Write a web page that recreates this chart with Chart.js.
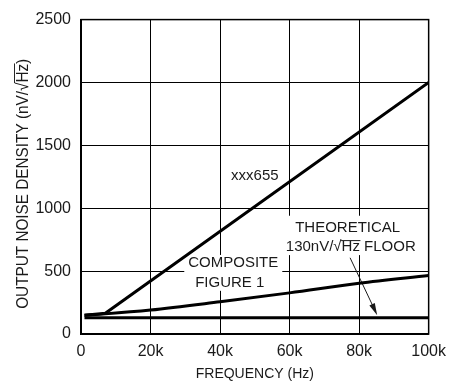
<!DOCTYPE html>
<html><head><meta charset="utf-8">
<script src="https://cdn.jsdelivr.net/npm/chart.js@4/dist/chart.umd.min.js"></script>
<style>html,body{margin:0;padding:0;background:#fff}#c{display:block}</style>
</head><body><canvas id="c" width="454" height="383"></canvas>
<script>
// ---- data ----
const freq655 = [1000, 7000, 100000];
const noise655 = [150, 165, 2000];
const freqComposite = [1000, 7000, 20000, 40000, 60000, 80000, 100000];
const noiseComposite = [150, 160, 190, 256, 327, 403, 465];
const freqFloor = [1000, 100000];
const noiseFloor = [130, 130];
const xTicks = [0, 20000, 40000, 60000, 80000, 100000];
const xTickLabels = ['0', '20k', '40k', '60k', '80k', '100k'];
const yTicks = [0, 500, 1000, 1500, 2000, 2500];
const yTickLabels = ['0', '500', '1000', '1500', '2000', '2500'];

const FONT = '"Liberation Sans", Arial, Helvetica, sans-serif';
const TXT = '#1a1a1a';

const toPts = (xs, ys) => xs.map((x, i) => ({x: x, y: ys[i]}));

function drawRadical(ctx, before, rad, after, cx, cy, px, sx) {
  ctx.save();
  ctx.font = px + 'px ' + FONT;
  ctx.textBaseline = 'middle';
  ctx.textAlign = 'left';
  const w1 = ctx.measureText(before + '\u221A').width;
  const w2 = ctx.measureText(rad).width;
  const w3 = ctx.measureText(after).width;
  const tot = w1 + w2 + w3;
  const asc = ctx.measureText('H').actualBoundingBoxAscent;
  ctx.translate(cx, cy);
  ctx.scale(sx, 1);
  const x0 = -tot / 2;
  ctx.fillText(before + '\u221A', x0, 0);
  ctx.fillText(rad, x0 + w1, 0);
  ctx.fillText(after, x0 + w1 + w2, 0);
  ctx.beginPath();
  ctx.lineWidth = 1;
  ctx.strokeStyle = ctx.fillStyle;
  const oy = Math.round(-asc - 1.5) + 0.5;
  ctx.moveTo(x0 + w1 - 0.5, oy);
  ctx.lineTo(x0 + w1 + w2 + 0.5, oy);
  ctx.stroke();
  ctx.restore();
  return tot * sx;
}

const annot = {
  id: 'annot',
  beforeDatasetsDraw(chart) {
    const {ctx, scales: {x, y}} = chart;
    ctx.save();
    ctx.fillStyle = '#fff';
    // white boxes masking the grid behind the labels
    const cX = x.getPixelForValue(43800), cY1 = y.getPixelForValue(565), cY2 = y.getPixelForValue(407);
    ctx.font = '15px ' + FONT;
    const wC = ctx.measureText('COMPOSITE').width;
    ctx.fillRect(cX - wC / 2 - 4, cY1 - 8, wC + 8, cY2 - cY1 + 16);
    const tX = x.getPixelForValue(77000), tY1 = y.getPixelForValue(845), tY2 = y.getPixelForValue(691);
    const wT = ctx.measureText('130nV/\u221AHz FLOOR').width;
    ctx.fillRect(tX - wT / 2 - 4, tY1 - 12, wT + 8, tY2 - tY1 + 20);

    ctx.fillStyle = TXT;
    ctx.textAlign = 'center';
    ctx.textBaseline = 'middle';
    ctx.fillText('COMPOSITE', cX, cY1);
    ctx.fillText('FIGURE 1', x.getPixelForValue(42800), cY2);
    ctx.fillText('THEORETICAL', x.getPixelForValue(76700), tY1);
    drawRadical(ctx, '130nV/', 'Hz', ' FLOOR', x.getPixelForValue(77600), tY2, 15, 1);
    ctx.fillText('xxx655', x.getPixelForValue(50000), y.getPixelForValue(1260));

    // arrow
    const ax0 = x.getPixelForValue(77400), ay0 = y.getPixelForValue(606);
    const ax1 = x.getPixelForValue(85200), ay1 = y.getPixelForValue(150);
    const ang = Math.atan2(ay1 - ay0, ax1 - ax0);
    ctx.strokeStyle = TXT;
    ctx.lineWidth = 1;
    ctx.beginPath();
    ctx.moveTo(ax0, ay0);
    ctx.lineTo(ax1 - 8 * Math.cos(ang), ay1 - 8 * Math.sin(ang));
    ctx.stroke();
    ctx.beginPath();
    ctx.moveTo(ax1, ay1);
    ctx.lineTo(ax1 - 12 * Math.cos(ang) + 3 * Math.sin(ang), ay1 - 12 * Math.sin(ang) - 3 * Math.cos(ang));
    ctx.lineTo(ax1 - 12 * Math.cos(ang) - 3 * Math.sin(ang), ay1 - 12 * Math.sin(ang) + 3 * Math.cos(ang));
    ctx.closePath();
    ctx.fill();
    ctx.restore();
  },
  afterDraw(chart) {
    const {ctx, chartArea: ca} = chart;
    ctx.save();
    ctx.strokeStyle = '#000';
    ctx.lineWidth = 1.5;
    ctx.strokeRect(ca.left, ca.top, ca.right - ca.left, ca.bottom - ca.top);
    // y-axis title (rotated)
    ctx.fillStyle = TXT;
    ctx.translate(23, (ca.top + ca.bottom) / 2 + 7);
    ctx.rotate(-Math.PI / 2);
    ctx.font = '17px ' + FONT;
    const full = ctx.measureText('OUTPUT NOISE DENSITY (nV/\u221AHz)').width;
    drawRadical(ctx, 'OUTPUT NOISE DENSITY (nV/', 'Hz', ')', 0, 0, 17, 250 / full);
    ctx.restore();
  }
};

new Chart(document.getElementById('c'), {
  type: 'line',
  data: {
    datasets: [
      {data: toPts(freq655, noise655), borderColor: '#000', borderWidth: 3, pointRadius: 0, fill: false, tension: 0},
      {data: toPts(freqComposite, noiseComposite), borderColor: '#000', borderWidth: 3, pointRadius: 0, fill: false, cubicInterpolationMode: 'monotone'},
      {data: toPts(freqFloor, noiseFloor), borderColor: '#000', borderWidth: 3, pointRadius: 0, fill: false, tension: 0}
    ]
  },
  options: {
    responsive: false,
    animation: false,
    devicePixelRatio: 1,
    layout: {padding: {top: 17, right: 21, left: 0, bottom: 0}},
    plugins: {legend: {display: false}, tooltip: {enabled: false}},
    scales: {
      x: {
        type: 'linear', min: 0, max: 100000,
        afterBuildTicks: s => { s.ticks = xTicks.map(v => ({value: v})); },
        afterFit: s => { s.height = 49; },
        ticks: {
          callback: v => xTickLabels[xTicks.indexOf(v)],
          font: {size: 16, family: FONT}, color: TXT, padding: 8, maxRotation: 0
        },
        grid: {color: '#000', lineWidth: 1, drawTicks: false},
        border: {color: '#000', width: 1.5},
        title: {display: true, text: 'FREQUENCY (Hz)', font: {size: 14, family: FONT}, color: TXT, padding: {top: 0, bottom: 0}}
      },
      y: {
        type: 'linear', min: 0, max: 2500,
        afterBuildTicks: s => { s.ticks = yTicks.map(v => ({value: v})); },
        afterFit: s => { s.width = 81; },
        ticks: {
          callback: v => yTickLabels[yTicks.indexOf(v)],
          font: {size: 16, family: FONT}, color: TXT, padding: 10
        },
        grid: {color: '#000', lineWidth: 1, drawTicks: false},
        border: {color: '#000', width: 1.5}
      }
    }
  },
  plugins: [annot]
});
</script>
</body></html>
